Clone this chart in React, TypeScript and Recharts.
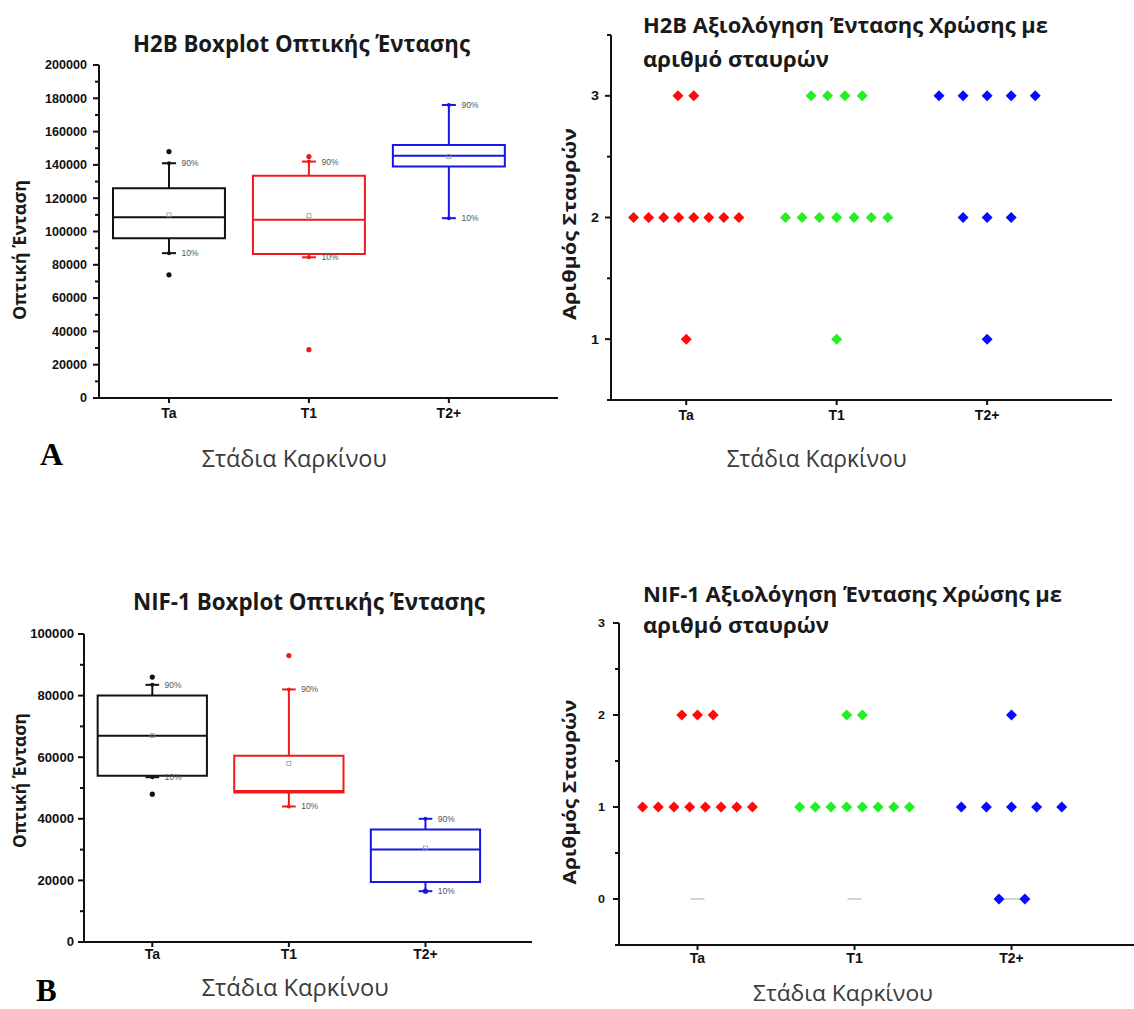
import React from "react";
import {
  ComposedChart,
  XAxis,
  YAxis,
  Scatter,
  ReferenceArea,
  ReferenceLine,
} from "recharts";

// categories on the x axis (placed at 1, 2, 3)
const categories = ["Ta", "T1", "T2+"];
const catPos = [1, 2, 3];

// H2B boxplot (optical intensity)
const h2bQ1 = [96000, 86500, 139000];
const h2bMedian = [108500, 107000, 145500];
const h2bQ3 = [126000, 133500, 152000];
const h2bP10 = [87000, 84500, 108000];
const h2bP90 = [141000, 142000, 176000];
const h2bMean = [110000, 109500, 145000];
const h2bOutliers = [[148000, 74000], [145000, 29000], []];
const h2bTicks = [
  0, 10000, 20000, 30000, 40000, 50000, 60000, 70000, 80000, 90000, 100000,
  110000, 120000, 130000, 140000, 150000, 160000, 170000, 180000, 190000, 200000,
];
const h2bMajor = [0, 20000, 40000, 60000, 80000, 100000, 120000, 140000, 160000, 180000, 200000];

// NIF-1 boxplot (optical intensity)
const nifQ1 = [54000, 48500, 19500];
const nifMedian = [67000, 49000, 30000];
const nifQ3 = [80000, 60500, 36500];
const nifP10 = [53500, 44000, 16500];
const nifP90 = [83500, 82000, 40000];
const nifMean = [67000, 58000, 30500];
const nifOutliers = [[86000, 48000], [93000], [16500]];
const nifTicks = [0, 10000, 20000, 30000, 40000, 50000, 60000, 70000, 80000, 90000, 100000];
const nifMajor = [0, 20000, 40000, 60000, 80000, 100000];

// H2B cross scores (x = category position with jitter, y = number of crosses)
const h2bScoreTa = [
  { x: 0.945, y: 3 }, { x: 1.05, y: 3 },
  { x: 0.65, y: 2 }, { x: 0.75, y: 2 }, { x: 0.85, y: 2 }, { x: 0.95, y: 2 },
  { x: 1.05, y: 2 }, { x: 1.15, y: 2 }, { x: 1.25, y: 2 }, { x: 1.35, y: 2 },
  { x: 1.0, y: 1 },
];
const h2bScoreT1 = [
  { x: 1.83, y: 3 }, { x: 1.94, y: 3 }, { x: 2.055, y: 3 }, { x: 2.17, y: 3 },
  { x: 1.66, y: 2 }, { x: 1.77, y: 2 }, { x: 1.885, y: 2 }, { x: 2.0, y: 2 },
  { x: 2.115, y: 2 }, { x: 2.23, y: 2 }, { x: 2.34, y: 2 },
  { x: 2.0, y: 1 },
];
const h2bScoreT2 = [
  { x: 2.68, y: 3 }, { x: 2.84, y: 3 }, { x: 3.0, y: 3 }, { x: 3.16, y: 3 }, { x: 3.32, y: 3 },
  { x: 2.84, y: 2 }, { x: 3.0, y: 2 }, { x: 3.16, y: 2 },
  { x: 3.0, y: 1 },
];
const scoreTicksH2b = [0.5, 1, 1.5, 2, 2.5, 3, 3.5];
const scoreMajorH2b = [1, 2, 3];

// NIF-1 cross scores
const nifScoreTa = [
  { x: 0.9, y: 2 }, { x: 1.0, y: 2 }, { x: 1.1, y: 2 },
  { x: 0.65, y: 1 }, { x: 0.75, y: 1 }, { x: 0.85, y: 1 }, { x: 0.95, y: 1 },
  { x: 1.05, y: 1 }, { x: 1.15, y: 1 }, { x: 1.25, y: 1 }, { x: 1.35, y: 1 },
];
const nifScoreT1 = [
  { x: 1.95, y: 2 }, { x: 2.05, y: 2 },
  { x: 1.65, y: 1 }, { x: 1.75, y: 1 }, { x: 1.85, y: 1 }, { x: 1.95, y: 1 },
  { x: 2.05, y: 1 }, { x: 2.15, y: 1 }, { x: 2.25, y: 1 }, { x: 2.35, y: 1 },
];
const nifScoreT2 = [
  { x: 3.0, y: 2 },
  { x: 2.68, y: 1 }, { x: 2.84, y: 1 }, { x: 3.0, y: 1 }, { x: 3.16, y: 1 }, { x: 3.32, y: 1 },
  { x: 2.92, y: 0 }, { x: 3.085, y: 0 },
];
// thin grey zero markers
const nifZeroTa = [{ x: 0.955, y: 0 }, { x: 1.045, y: 0 }];
const nifZeroT1 = [{ x: 1.955, y: 0 }, { x: 2.045, y: 0 }];
const nifZeroT2 = [{ x: 2.92, y: 0 }, { x: 3.085, y: 0 }];
const scoreTicksNif = [-0.5, 0, 0.5, 1, 1.5, 2, 2.5, 3];
const scoreMajorNif = [0, 1, 2, 3];

const BOX_COLORS = ["#111111", "#ee1b1b", "#1616e6"];
const DOT_COLORS = ["#ff0a0a", "#22f022", "#0a0aff"];
const BOX_HALF = 0.4;
const CAP_HALF = 0.05;

const SANS = "'Liberation Sans', Arial, sans-serif";
const TITLE_FONT = "'Open Sans', 'Noto Sans', sans-serif";

function makeYTick(majors: number[], charW: number, fontSize: number, gap: number) {
  return (props: any) => {
    const { x, y, payload } = props;
    const v = payload.value;
    const major = majors.includes(v);
    const label = String(v);
    return (
      <g>
        <line x1={x} x2={x - (major ? 6 : 4)} y1={y} y2={y} stroke="#111" strokeWidth={2} />
        {major && (
          <text
            x={x - gap}
            y={y}
            dy="0.36em"
            textAnchor="end"
            fontSize={fontSize}
            fontWeight={700}
            fontFamily={SANS}
            fill="#111"
            textLength={label.length * charW}
            lengthAdjust="spacingAndGlyphs"
          >
            {label}
          </text>
        )}
      </g>
    );
  };
}

const Diamond = (color: string) => (props: any) => {
  const { cx, cy } = props;
  const r = 5.5;
  return (
    <polygon
      points={`${cx},${cy - r} ${cx + r},${cy} ${cx},${cy + r} ${cx - r},${cy}`}
      fill={color}
    />
  );
};

const Dot = (color: string, r: number) => (props: any) => (
  <circle cx={props.cx} cy={props.cy} r={r} fill={color} />
);

const MeanMark = (props: any) => (
  <rect x={props.cx - 2} y={props.cy - 2} width={4} height={4} fill="none" stroke="#999" strokeWidth={0.8} />
);

const PctLabel = (props: any) => (
  <text x={props.cx} y={props.cy} dy="0.35em" fontSize={8.5} fill="#555" fontFamily={SANS}>
    {props.payload.label}
  </text>
);

const NoMark = () => <g />;

function renderBoxes(
  q1: number[], med: number[], q3: number[], p10: number[], p90: number[],
  mean: number[], outliers: number[][],
) {
  const out: any[] = [];
  catPos.forEach((c, i) => {
    const col = BOX_COLORS[i];
    out.push(
      <ReferenceLine key={`wu${i}`} segment={[{ x: c, y: q3[i] }, { x: c, y: p90[i] }]} stroke={col} strokeWidth={2} />,
      <ReferenceLine key={`wl${i}`} segment={[{ x: c, y: q1[i] }, { x: c, y: p10[i] }]} stroke={col} strokeWidth={2} />,
      <ReferenceLine key={`cu${i}`} segment={[{ x: c - CAP_HALF, y: p90[i] }, { x: c + CAP_HALF, y: p90[i] }]} stroke={col} strokeWidth={2} />,
      <ReferenceLine key={`cl${i}`} segment={[{ x: c - CAP_HALF, y: p10[i] }, { x: c + CAP_HALF, y: p10[i] }]} stroke={col} strokeWidth={2} />,
      <ReferenceArea key={`box${i}`} x1={c - BOX_HALF} x2={c + BOX_HALF} y1={q1[i]} y2={q3[i]} fill="#fff" fillOpacity={1} stroke={col} strokeWidth={2} ifOverflow="visible" />,
      <ReferenceLine key={`md${i}`} segment={[{ x: c - BOX_HALF, y: med[i] }, { x: c + BOX_HALF, y: med[i] }]} stroke={col} strokeWidth={2} />,
      <Scatter key={`cap${i}`} data={[{ x: c, y: p10[i] }, { x: c, y: p90[i] }]} dataKey="y" shape={Dot(col, 2)} isAnimationActive={false} />,
      <Scatter key={`out${i}`} data={outliers[i].map((v) => ({ x: c, y: v }))} dataKey="y" shape={Dot(col, 2.6)} isAnimationActive={false} />,
    );
  });
  out.push(
    <Scatter key="mean" data={catPos.map((c, i) => ({ x: c, y: mean[i] }))} dataKey="y" shape={MeanMark} isAnimationActive={false} />,
    <Scatter
      key="pct"
      data={catPos.flatMap((c, i) => [
        { x: c + 0.09, y: p90[i], label: "90%" },
        { x: c + 0.09, y: p10[i], label: "10%" },
      ])}
      dataKey="y"
      shape={PctLabel}
      isAnimationActive={false}
    />,
  );
  return out;
}

function xAxis(margin: number, max: number) {
  return (
    <XAxis
      type="number"
      dataKey="x"
      domain={[0.5, max]}
      ticks={catPos}
      interval={0}
      tickFormatter={(v: number) => categories[v - 1] ?? ""}
      axisLine={{ stroke: "#111", strokeWidth: 2 }}
      tickLine={{ stroke: "#111", strokeWidth: 2 }}
      tickSize={5}
      tickMargin={margin}
      tick={{ fill: "#111", fontSize: 14, fontWeight: 700, fontFamily: SANS }}
      height={30}
    />
  );
}

const Txt = (p: any) => <text {...p} />;

export default function App() {
  return (
    <div style={{ position: "absolute", left: 0, top: 0, width: 1134, height: 1009, background: "#fff", overflow: "hidden" }}>
      {/* A: H2B boxplot */}
      <div style={{ position: "absolute", left: 0, top: 0 }}>
        <ComposedChart width={570} height={480} margin={{ top: 65, right: 12, left: 39, bottom: 52 }}>
          {xAxis(5, 3.78)}
          <YAxis
            type="number"
            dataKey="y"
            domain={[0, 200000]}
            ticks={h2bTicks}
            interval={0}
            tickSize={0}
            tickMargin={0}
            tickLine={false}
            axisLine={{ stroke: "#111", strokeWidth: 2 }}
            tick={makeYTick(h2bMajor, 7, 12, 12)}
            width={60}
          />
          {renderBoxes(h2bQ1, h2bMedian, h2bQ3, h2bP10, h2bP90, h2bMean, h2bOutliers)}
        </ComposedChart>
      </div>

      {/* B: H2B crosses */}
      <div style={{ position: "absolute", left: 560, top: 0 }}>
        <ComposedChart width={574} height={480} margin={{ top: 35, right: 22, left: 0, bottom: 50 }}>
          {xAxis(5, 3.83)}
          <YAxis
            type="number"
            dataKey="y"
            domain={[0.5, 3.5]}
            ticks={scoreTicksH2b}
            interval={0}
            tickSize={0}
            tickMargin={0}
            tickLine={false}
            axisLine={{ stroke: "#111", strokeWidth: 2 }}
            tick={makeYTick(scoreMajorH2b, 8, 12.5, 12)}
            width={51}
          />
          <Scatter data={h2bScoreTa} dataKey="y" shape={Diamond(DOT_COLORS[0])} isAnimationActive={false} />
          <Scatter data={h2bScoreT1} dataKey="y" shape={Diamond(DOT_COLORS[1])} isAnimationActive={false} />
          <Scatter data={h2bScoreT2} dataKey="y" shape={Diamond(DOT_COLORS[2])} isAnimationActive={false} />
        </ComposedChart>
      </div>

      {/* C: NIF-1 boxplot */}
      <div style={{ position: "absolute", left: 0, top: 560 }}>
        <ComposedChart width={560} height={449} margin={{ top: 74, right: 28, left: 24, bottom: 37 }}>
          {xAxis(2, 3.78)}
          <YAxis
            type="number"
            dataKey="y"
            domain={[0, 100000]}
            ticks={nifTicks}
            interval={0}
            tickSize={0}
            tickMargin={0}
            tickLine={false}
            axisLine={{ stroke: "#111", strokeWidth: 2 }}
            tick={makeYTick(nifMajor, 7.3, 12, 10)}
            width={60}
          />
          {renderBoxes(nifQ1, nifMedian, nifQ3, nifP10, nifP90, nifMean, nifOutliers)}
        </ComposedChart>
      </div>

      {/* D: NIF-1 crosses */}
      <div style={{ position: "absolute", left: 560, top: 560 }}>
        <ComposedChart width={574} height={449} margin={{ top: 63, right: 0, left: 0, bottom: 34 }}>
          {xAxis(3, 3.78)}
          <YAxis
            type="number"
            dataKey="y"
            domain={[-0.5, 3]}
            ticks={scoreTicksNif}
            interval={0}
            tickSize={0}
            tickMargin={0}
            tickLine={false}
            axisLine={{ stroke: "#111", strokeWidth: 2 }}
            tick={makeYTick(scoreMajorNif, 7, 11, 14)}
            width={59}
          />
          <Scatter data={nifZeroTa} dataKey="y" line={{ stroke: "#aaa", strokeWidth: 1 }} shape={NoMark} isAnimationActive={false} />
          <Scatter data={nifZeroT1} dataKey="y" line={{ stroke: "#aaa", strokeWidth: 1 }} shape={NoMark} isAnimationActive={false} />
          <Scatter data={nifZeroT2} dataKey="y" line={{ stroke: "#aaa", strokeWidth: 1 }} shape={NoMark} isAnimationActive={false} />
          <Scatter data={nifScoreTa} dataKey="y" shape={Diamond(DOT_COLORS[0])} isAnimationActive={false} />
          <Scatter data={nifScoreT1} dataKey="y" shape={Diamond(DOT_COLORS[1])} isAnimationActive={false} />
          <Scatter data={nifScoreT2} dataKey="y" shape={Diamond(DOT_COLORS[2])} isAnimationActive={false} />
        </ComposedChart>
      </div>

      {/* titles, axis labels and panel letters */}
      <svg width={1134} height={1009} style={{ position: "absolute", left: 0, top: 0, pointerEvents: "none" }}>
        <g fontFamily={TITLE_FONT} fill="#1a1a1a" fontWeight="bold">
          <Txt x={133} y={51.5} fontSize={24} textLength={337} lengthAdjust="spacingAndGlyphs">H2B Boxplot Οπτικής Έντασης</Txt>
          <Txt x={643} y={33.3} fontSize={21} textLength={405} lengthAdjust="spacingAndGlyphs">H2B Αξιολόγηση Έντασης Χρώσης με</Txt>
          <Txt x={643} y={66.7} fontSize={21} textLength={186} lengthAdjust="spacingAndGlyphs">αριθμό σταυρών</Txt>
          <Txt x={133} y={610} fontSize={23} textLength={352} lengthAdjust="spacingAndGlyphs">NIF-1 Boxplot Οπτικής Έντασης</Txt>
          <Txt x={643} y={601.7} fontSize={21} textLength={419} lengthAdjust="spacingAndGlyphs">NIF-1 Αξιολόγηση Έντασης Χρώσης με</Txt>
          <Txt x={643} y={633.3} fontSize={21} textLength={186} lengthAdjust="spacingAndGlyphs">αριθμό σταυρών</Txt>

          <Txt transform="translate(26,250) rotate(-90)" textAnchor="middle" fontSize={17} textLength={140} lengthAdjust="spacingAndGlyphs">Οπτική Ένταση</Txt>
          <Txt transform="translate(26,780.5) rotate(-90)" textAnchor="middle" fontSize={17} textLength={135} lengthAdjust="spacingAndGlyphs">Οπτική Ένταση</Txt>
          <Txt transform="translate(576,224) rotate(-90)" textAnchor="middle" fontSize={17} textLength={192} lengthAdjust="spacingAndGlyphs">Αριθμός Σταυρών</Txt>
          <Txt transform="translate(576,792) rotate(-90)" textAnchor="middle" fontSize={17} textLength={185} lengthAdjust="spacingAndGlyphs">Αριθμός Σταυρών</Txt>
        </g>
        <g fontFamily={TITLE_FONT} fill="#3a3a3a">
          <Txt x={201.7} y={467} fontSize={23} textLength={185} lengthAdjust="spacingAndGlyphs">Στάδια Καρκίνου</Txt>
          <Txt x={726.7} y={466.5} fontSize={23} textLength={180} lengthAdjust="spacingAndGlyphs">Στάδια Καρκίνου</Txt>
          <Txt x={201.7} y={996} fontSize={23} textLength={187} lengthAdjust="spacingAndGlyphs">Στάδια Καρκίνου</Txt>
          <Txt x={753} y={1001} fontSize={22} textLength={180} lengthAdjust="spacingAndGlyphs">Στάδια Καρκίνου</Txt>
        </g>
        <g fontFamily="'Liberation Serif', 'Times New Roman', serif" fontWeight="bold" fill="#000">
          <Txt x={40} y={465} fontSize={32}>A</Txt>
          <Txt x={36} y={1001} fontSize={31}>B</Txt>
        </g>
      </svg>
    </div>
  );
}
